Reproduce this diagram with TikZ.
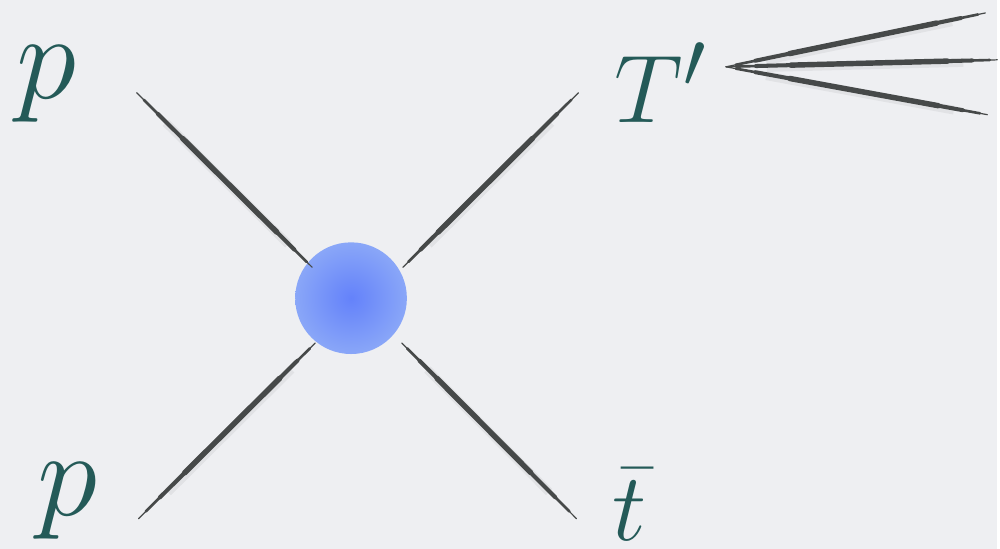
\documentclass[tikz,border=0pt]{standalone}
\usepackage{graphicx}
\usetikzlibrary{positioning}
\definecolor{bgpaper}{RGB}{238,239,242}
\definecolor{inkgray}{RGB}{70,73,73}
\definecolor{labelteal}{RGB}{36,90,88}
\definecolor{blobin}{RGB}{100,130,250}
\definecolor{blobout}{RGB}{176,204,246}
\pgfdeclareradialshading{blobshade}{\pgfpoint{0bp}{0bp}}{color(0bp)=(blobin); color(8bp)=(blobin!85!blobout); color(50bp)=(blobout)}
\newcommand{\bigsym}[1]{\scalebox{2.8}{\Huge$#1$}}
\newcommand{\midsym}[1]{\scalebox{2.21}{\Huge$#1$}}

\begin{document}
\begin{tikzpicture}[
  x=0.02cm, y=-0.02cm,
  particle/.style={inner sep=0, text=labelteal},
  leg/.style={draw=inkgray, line width=0.7pt, line cap=round,
    preaction={draw=black, opacity=0.05, line width=5pt, shorten <=0.8cm, shorten >=0.7cm,
      transform canvas={shift={(0.5pt,-1pt)}}},
    postaction={draw=inkgray, line width=1.5pt, shorten <=0.2cm, shorten >=0.15cm},
    postaction={draw=inkgray, line width=2.3pt, shorten <=0.6cm, shorten >=0.5cm},
    postaction={draw=inkgray, line width=3.1pt, shorten <=1.3cm, shorten >=1.0cm}},
  blob/.style={circle, minimum size=2.24cm, inner sep=0, shading=blobshade}
]
  % paper
  \fill[bgpaper] (0,0) rectangle (1000,550);

  % hard process
  \node[blob] (vertex) at (352,299) {};

  % incoming and outgoing legs
  \coordinate (pa) at (137,93);   \coordinate (va) at (313,268);
  \coordinate (pb) at (139,520);  \coordinate (vb) at (316,344);
  \coordinate (ta) at (580,93);   \coordinate (vc) at (404,268);
  \coordinate (tb) at (578,520);  \coordinate (vd) at (403,344);
  \foreach \outer/\inner in {pa/va, pb/vb, ta/vc, tb/vd}
    \draw[leg] (\outer) -- (\inner);

  % labels
  \node[particle, anchor=base west] (ptop) at (16,99) {\bigsym{p}};
  \node[particle, anchor=base west] (pbot) at (37,517) {\bigsym{p}};
  \node[particle, anchor=base west] (tprime) at (616,123) {\midsym{T'}};
  \node[particle, anchor=base west] (tbar) at (614,542) {\midsym{\bar{t}}};

  % decay products
  \coordinate (decay) at (728,67);
  \coordinate (jet1) at (988,13);
  \coordinate (jet2) at (1000,60);
  \coordinate (jet3) at (990,115);
  \foreach \j in {1,2,3}
    \draw[leg] (decay) -- (jet\j);
\end{tikzpicture}
\end{document}
